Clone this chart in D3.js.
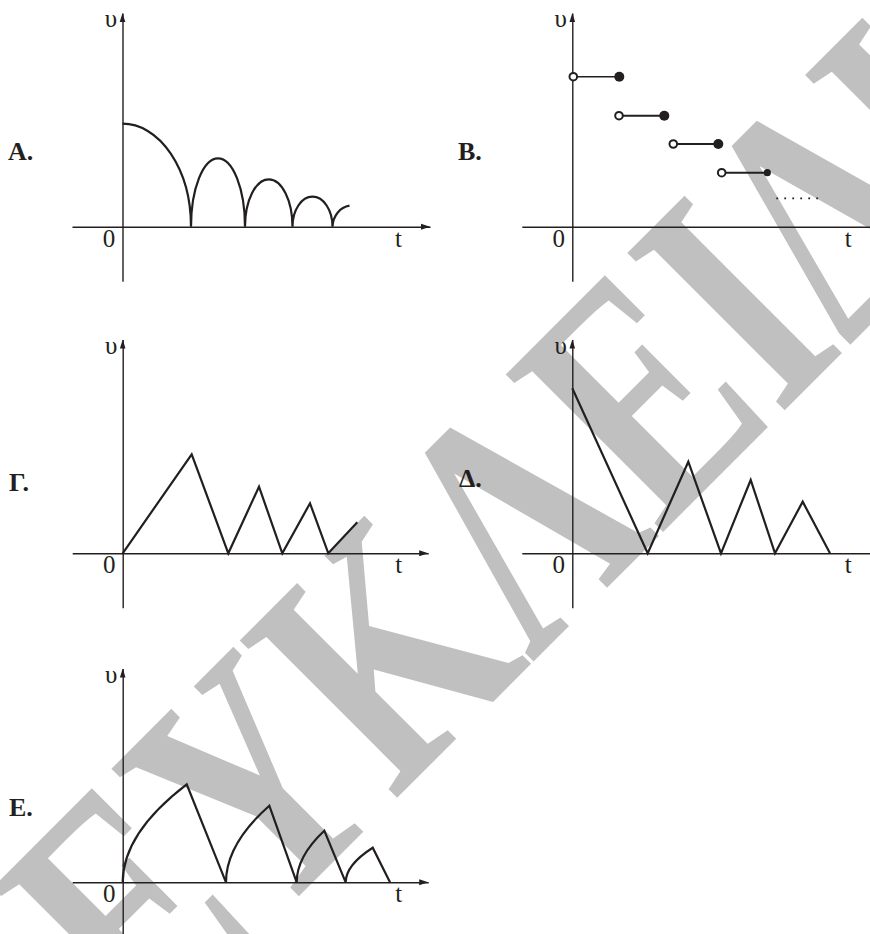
<!DOCTYPE html>
<html>
<head>
<meta charset="utf-8">
<script src="https://cdn.jsdelivr.net/npm/d3@7"></script>
<style>
  body { margin: 0; background: #fff; }
  svg { display: block; }
</style>
</head>
<body>
<script>
// ---- Values (t along the horizontal axis, υ along the vertical axis) ----

// Α: falling quarter-ellipse, then shrinking arches, then the start of one more
const aStartV = 10.3;
const aZeros = [6.85, 12.25, 17.0, 21.0];
const aArchPeaks = [6.84, 4.74, 3.0];
const aTailT = [21.0, 22.7];
const aTailV = [0, 2.1];

// Β: constant-speed steps (open circle at start, filled at end)
const bOpenT = [0.1, 4.67, 10.1, 14.94];
const bClosedT = [4.7, 9.2, 14.6, 19.5];
const bLevels = [15.0, 11.1, 8.27, 5.4];
const bDotsT = [20.4, 24.6];
const bDotsV = 2.84;

// Γ: saw-tooth starting from zero
const gT = [0, 6.9, 10.56, 13.63, 15.96, 18.73, 20.56, 23.46];
const gV = [0, 9.9, 0, 6.66, 0, 5.0, 0, 3.1];

// Δ: saw-tooth starting from its maximum
const dT = [0, 7.54, 11.6, 14.87, 17.84, 20.27, 23.04, 25.77];
const dV = [16.5, 0, 9.16, 0, 7.33, 0, 5.16, 0];

// Ε: curved rise, straight fall
const eStartT = [0, 10.33, 17.4, 22.3];
const ePeakT = [6.4, 14.66, 20.16, 25.0];
const ePeakV = [9.8, 7.66, 5.16, 3.46];
const eEndT = [10.33, 17.4, 22.3, 26.73];

// Panel captions and axis labels
const panelLabels = ["Α.", "Β.", "Γ.", "Δ.", "Ε."];
const axisV = "υ";
const axisT = "t";
const originLabel = "0";

// ---- Layout ----
const W = 870, H = 934;
const PX = 10; // pixels per unit on both axes
const layout = [
  { ox: 122.5, oy: 226.7, tMax: 30.75, labX: 8,   labY: 160 },
  { ox: 572.3, oy: 226.7, tMax: 31.5,  labX: 458, labY: 160 },
  { ox: 122.7, oy: 553.3, tMax: 30.55, labX: 9,   labY: 491 },
  { ox: 572.3, oy: 553.3, tMax: 31.5,  labX: 459, labY: 487 },
  { ox: 122.7, oy: 882.3, tMax: 30.55, labX: 9,   labY: 816 }
];
const ink = "#231f20";
const serif = "'Liberation Serif', 'Times New Roman', serif";

const svg = d3.select("body").append("svg")
  .attr("width", W).attr("height", H)
  .attr("viewBox", `0 0 ${W} ${H}`);

// Publisher's mark behind the figures
svg.append("text")
  .attr("transform", "translate(147,1048) rotate(-45) scale(0.74,1)")
  .attr("font-family", serif)
  .attr("font-size", 340)
  .attr("font-weight", "bold")
  .attr("fill", "#c0c0c0")
  .text("ΕΥΚΛΕΙΔΗΣ");

function makePanel(i) {
  const L = layout[i];
  const x = d3.scaleLinear().domain([-5.05, L.tMax]).range([L.ox - 5.05 * PX, L.ox + L.tMax * PX]);
  const y = d3.scaleLinear().domain([-5.45, 21.37]).range([L.oy + 5.45 * PX, L.oy - 21.37 * PX]);
  const g = svg.append("g");

  // axes: only the domain lines, no ticks
  g.append("g").attr("transform", `translate(0,${y(0)})`)
    .call(d3.axisBottom(x).tickValues([]).tickSizeOuter(0));
  g.append("g").attr("transform", `translate(${x(0)},0)`)
    .call(d3.axisLeft(y).tickValues([]).tickSizeOuter(0));
  g.selectAll(".domain").attr("stroke", ink).attr("stroke-width", 1.4);

  // arrowheads
  const xe = x.range()[1], ye = y.range()[1];
  g.append("path")
    .attr("d", `M${xe},${y(0)} L${xe - 9},${y(0) - 3} L${xe - 9},${y(0) + 3} Z`)
    .attr("fill", ink);
  g.append("path")
    .attr("d", `M${x(0)},${ye} L${x(0) - 2.8},${ye + 9} L${x(0) + 2.8},${ye + 9} Z`)
    .attr("fill", ink);

  // text
  g.append("text").attr("x", x(0) - 11.5).attr("y", ye + 14)
    .attr("text-anchor", "middle").attr("font-family", serif).attr("font-size", 25)
    .attr("fill", ink).text(axisV);
  g.append("text").attr("x", x(0) - 13.5).attr("y", y(0) + 20)
    .attr("text-anchor", "middle").attr("font-family", serif).attr("font-size", 25)
    .attr("fill", ink).text(originLabel);
  g.append("text").attr("x", x(27.6)).attr("y", y(0) + 20)
    .attr("text-anchor", "middle").attr("font-family", serif).attr("font-size", 25)
    .attr("fill", ink).text(axisT);
  g.append("text").attr("x", L.labX).attr("y", L.labY)
    .attr("font-family", serif).attr("font-size", 26).attr("font-weight", "bold")
    .attr("fill", ink).text(panelLabels[i]);

  return { g, x, y };
}

function curve(g, d, w) {
  return g.append("path").attr("d", d).attr("fill", "none")
    .attr("stroke", ink).attr("stroke-width", w || 2.2)
    .attr("stroke-linejoin", "miter").attr("stroke-linecap", "butt");
}

// ---- Α ----
{
  const { g, x, y } = makePanel(0);
  let d = `M${x(0)},${y(aStartV)} A${x(aZeros[0]) - x(0)},${y(0) - y(aStartV)} 0 0 1 ${x(aZeros[0])},${y(0)}`;
  aArchPeaks.forEach((h, k) => {
    const rx = (x(aZeros[k + 1]) - x(aZeros[k])) / 2;
    d += ` A${rx},${y(0) - y(h)} 0 0 1 ${x(aZeros[k + 1])},${y(0)}`;
  });
  d += ` M${x(aTailT[0])},${y(aTailV[0])} A${(x(aTailT[1]) - x(aTailT[0])) * 1.15},${(y(0) - y(aTailV[1])) * 1.05} 0 0 1 ${x(aTailT[1])},${y(aTailV[1])}`;
  curve(g, d);
}

// ---- Β ----
{
  const { g, x, y } = makePanel(1);
  const steps = bLevels.map((v, k) => ({ t0: bOpenT[k], t1: bClosedT[k], v, k }));
  g.selectAll("line.step").data(steps).join("line")
    .attr("x1", s => x(s.t0)).attr("x2", s => x(s.t1))
    .attr("y1", s => y(s.v)).attr("y2", s => y(s.v))
    .attr("stroke", ink).attr("stroke-width", s => s.k === 0 ? 1.4 : 2.1);
  g.selectAll("circle.closed").data(steps).join("circle")
    .attr("cx", s => x(s.t1)).attr("cy", s => y(s.v))
    .attr("r", s => s.k === 3 ? 3.6 : 5).attr("fill", ink);
  g.selectAll("circle.open").data(steps).join("circle")
    .attr("cx", s => x(s.t0)).attr("cy", s => y(s.v))
    .attr("r", 3.8).attr("fill", "#fff").attr("stroke", ink).attr("stroke-width", 2);
  g.append("line")
    .attr("x1", x(bDotsT[0])).attr("x2", x(bDotsT[1]))
    .attr("y1", y(bDotsV)).attr("y2", y(bDotsV))
    .attr("stroke", ink).attr("stroke-width", 1.7).attr("stroke-dasharray", "1.8,6.2");
}

// ---- Γ ----
{
  const { g, x, y } = makePanel(2);
  const line = d3.line().x(p => x(p[0])).y(p => y(p[1]));
  curve(g, line(d3.zip(gT, gV)));
}

// ---- Δ ----
{
  const { g, x, y } = makePanel(3);
  const line = d3.line().x(p => x(p[0])).y(p => y(p[1]));
  curve(g, line(d3.zip(dT, dV)));
}

// ---- Ε ----
{
  const { g, x, y } = makePanel(4);
  let d = "";
  eStartT.forEach((t0, k) => {
    d += `M${x(t0)},${y(0)} Q${x(t0)},${y(ePeakV[k] / 2)} ${x(ePeakT[k])},${y(ePeakV[k])} L${x(eEndT[k])},${y(0)} `;
  });
  curve(g, d);
}
</script>
</body>
</html>
